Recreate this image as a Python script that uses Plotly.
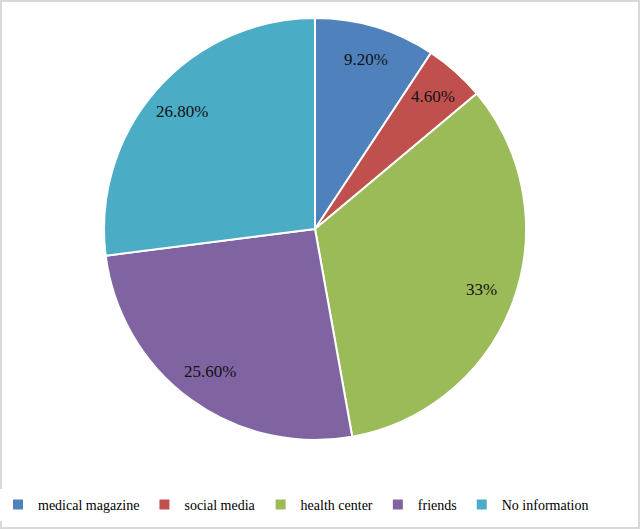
import math
import plotly.graph_objects as go

categories = ["medical magazine", "social media", "health center", "friends", "No information"]
values = [9.2, 4.6, 33, 25.6, 26.8]
label_texts = ["9.20%", "4.60%", "33%", "25.60%", "26.80%"]
colors = ["#4F81BD", "#C0504D", "#9BBB59", "#8064A2", "#4BACC6"]

W, H = 640, 529
ml, mr, mt, mb = 0, 10, 18, 89
pw, ph = W - ml - mr, H - mt - mb
R = min(pw, ph) / 2

fig = go.Figure(go.Pie(
    labels=categories, values=values, sort=False, direction="clockwise", rotation=0,
    marker=dict(colors=colors, line=dict(color="white", width=2)),
    textinfo="none", hoverinfo="label+percent",
))

# data labels placed at slice mid-angles (computed from values)
total = sum(values)
cum = 0
ann = []
for v, t in zip(values, label_texts):
    mid = (cum + v / 2) / total * 2 * math.pi
    cum += v
    f = 0.84
    x = 0.5 + f * R * math.sin(mid) / pw
    y = 0.5 + f * R * math.cos(mid) / ph
    ann.append(dict(x=x, y=y, xref="paper", yref="paper", text=t, showarrow=False,
                    xanchor="center", yanchor="middle",
                    font=dict(family="Liberation Serif", size=17, color="#111111")))

fig.update_layout(
    width=W, height=H,
    margin=dict(l=ml, r=mr, t=mt, b=mb, autoexpand=False),
    paper_bgcolor="white", plot_bgcolor="white",
    font=dict(family="Liberation Serif", size=14, color="black"),
    showlegend=True,
    legend=dict(orientation="h", x=296 / pw, xanchor="center", y=-(505 - (mt + ph)) / ph,
                yanchor="middle", font=dict(family="Liberation Serif", size=14, color="black"),
                itemwidth=30, traceorder="normal", tracegroupgap=0),
    annotations=ann,
    shapes=[dict(type="rect", xref="paper", yref="paper",
                 x0=(1 - ml) / pw, x1=(W - 1 - ml) / pw,
                 y0=-(mb - 1) / ph, y1=(ph + mt - 1) / ph,
                 line=dict(color="#D9D9D9", width=2))],
)

fig.write_html("out.html", config={"displayModeBar": False},
               post_script="document.body.style.margin='0';document.body.style.overflow='hidden';")
